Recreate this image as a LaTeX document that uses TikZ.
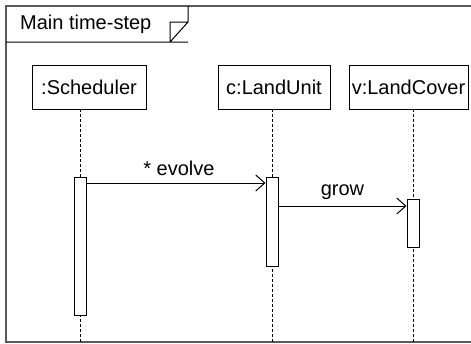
\documentclass[tikz,border=0pt]{standalone}
\usepackage{fontspec}
\setmainfont{Liberation Sans}
\usetikzlibrary{arrows.meta}
\begin{document}
\begin{tikzpicture}[x=1pt, y=-1pt,
  every node/.style={font=\fontsize{20}{24}\selectfont, inner sep=0pt},
  head/.style={draw, line width=1pt, minimum height=44pt},
  bar/.style={draw, fill=white, line width=1pt, minimum width=12pt},
  life/.style={line width=1pt, dash pattern=on 2.5pt off 2.5pt},
  msg/.style={line width=1pt, -{Straight Barb[length=9pt, width=16pt, line width=1pt]}},
  framel/.style={line width=1.5pt, draw=black!65}]
\useasboundingbox (0,0) rectangle (471,343);
\clip (0,0) rectangle (471,343);

% frame
\draw[framel] (490,6) -- (6,6) -- (6,342) -- (490,342);
\draw[line width=1pt] (6,42) -- (188,42) (188,6) -- (188,22) -- (170,42)
  (170,42) -- (170,22) -- (188,22);
\node[anchor=west] (title) at (20,24) {Main time-step};

% lifeline heads
\node[head, minimum width=114pt] (sched) at (89,87) {:Scheduler};
\node[head, minimum width=112pt] (unit) at (274,87) {c:LandUnit};
\node[head, minimum width=119pt] (cover) at (408.5,87) {v:LandCover};

% lifeline ends
\coordinate (sTop) at (80,109);  \coordinate (sEnd) at (80,345);
\coordinate (uTop) at (272,109); \coordinate (uEnd) at (272,345);
\coordinate (cTop) at (413,109); \coordinate (cEnd) at (413,345);
\draw[life] (sTop) -- (sEnd);
\draw[life] (uTop) -- (uEnd);
\draw[life] (cTop) -- (cEnd);

% activation bars
\node[bar, minimum height=138pt] (sbar) at (80,246) {};
\node[bar, minimum height=89pt] (ubar) at (272,221.5) {};
\node[bar, minimum height=48pt] (cbar) at (413,223) {};

% messages
\coordinate (evY) at (0,183);
\coordinate (grY) at (0,206);
\draw[msg] (sbar.east |- evY) -- node[above=7pt, xshift=3pt] (evlab) {* evolve} (ubar.west |- evY);
\draw[msg] (ubar.east |- grY) -- node[above=6pt] (grlab) {grow} (cbar.west |- grY);
\end{tikzpicture}
\end{document}
